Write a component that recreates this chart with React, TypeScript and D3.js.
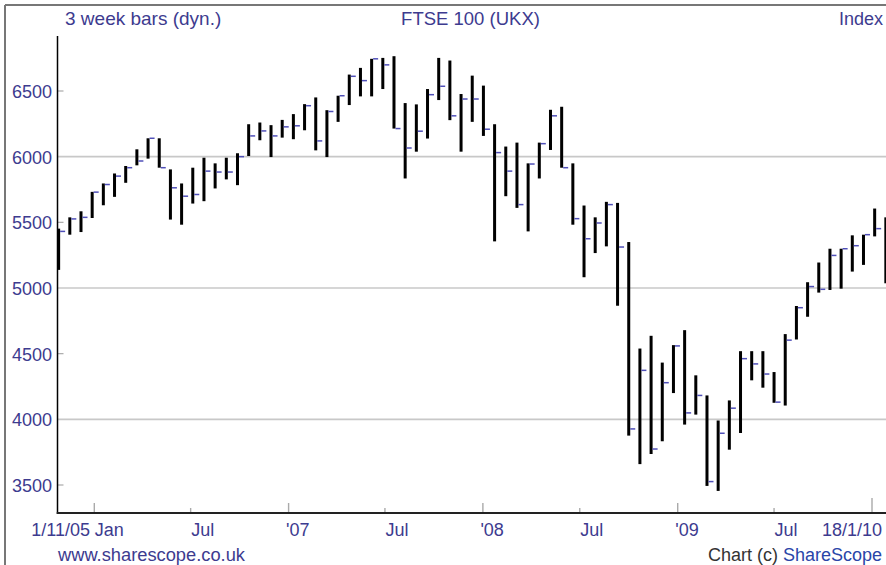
import React from "react";
import * as d3 from "d3";

// 3-week OHLC bars of the FTSE 100 (high, low, close)
const highs = [
  5452, 5538, 5584, 5732, 5796, 5872, 5929, 6056, 6140, 6140,
  5903, 5796, 5916, 5992, 5949, 5992, 6026, 6247, 6260, 6240,
  6280, 6324, 6400, 6451, 6354, 6464, 6625, 6676, 6745, 6752,
  6765, 6408, 6398, 6515, 6752, 6732, 6477, 6617, 6541, 6247,
  6077, 6107, 5949, 6107, 6357, 6380, 5949, 5628, 5538, 5656,
  5648, 5350, 4539, 4636, 4432, 4565, 4679, 4335, 4182, 3991,
  4144, 4519, 4519, 4519, 4360, 4649, 4863, 5044, 5194, 5299,
  5299, 5401, 5406, 5605, 5538,
];
const lows = [
  5138, 5406, 5426, 5533, 5630, 5694, 5801, 5934, 5985, 5916,
  5521, 5482, 5643, 5661, 5758, 5827, 5783, 6005, 6125, 5997,
  6145, 6133, 6201, 6048, 5997, 6265, 6393, 6459, 6459, 6515,
  6214, 5834, 6038, 6138, 6431, 6278, 6038, 6265, 6158, 5355,
  5699, 5610, 5431, 5834, 6051, 5916, 5482, 5082, 5266, 5317,
  4865, 3876, 3659, 3736, 3833, 4200, 3960, 4036, 3493, 3455,
  3769, 3896, 4297, 4241, 4126, 4105, 4608, 4781, 4965, 4985,
  4995, 5125, 5176, 5393, 5036,
];
const closes = [
  5431, 5526, 5538, 5730, 5788, 5852, 5916, 5967, 6140, 5916,
  5763, 5699, 5712, 5890, 5883, 5883, 6000, 6158, 6196, 6158,
  6227, 6235, 6388, 6120, 6344, 6464, 6612, 6579, 6745, 6699,
  6214, 6066, 6194, 6472, 6536, 6311, 6439, 6439, 6209, 6031,
  5890, 5635, 5944, 6099, 6311, 5916, 5528, 5375, 5495, 5635,
  5312, 3927, 4373, 3774, 4279, 4559, 4049, 4182, 3526, 3894,
  4085, 4462, 4422, 4345, 4131, 4603, 4850, 5011, 4990, 5248,
  5299, 5322, 5406, 5452, 5494,
];

const firstBar = new Date(2005, 9, 26);
const barDays = 21;

const yTicksMajor = [4000, 5000, 6000];
const yTicksLabel = [3500, 4000, 4500, 5000, 5500, 6000, 6500];
const yTicksMinor = [3500, 4500, 5500, 6500];

const xTickDates = [
  new Date(2006, 0, 1), new Date(2006, 6, 1), new Date(2007, 0, 1), new Date(2007, 6, 1),
  new Date(2008, 0, 1), new Date(2008, 6, 1), new Date(2009, 0, 1), new Date(2009, 6, 1),
  new Date(2010, 0, 1),
];
const xTickLabels = ["Jan", "Jul", "'07", "Jul", "'08", "Jul", "'09", "Jul", ""];

const W = 886;
const H = 565;
const textColor = "#3d3b8f";
const font = "'Liberation Sans', Arial, sans-serif";

export default function App() {
  const x = d3.scaleTime()
    .domain([new Date(2006, 0, 1), new Date(2010, 0, 1)])
    .range([94.3, 872]);
  const y = d3.scaleLinear().domain([3500, 6500]).range([485, 91]);

  const axisX = 57.5;
  const axisBottom = 513;
  const axisTop = 36;

  const bars = highs.map((h, i) => ({
    date: d3.timeDay.offset(firstBar, barDays * i),
    high: h,
    low: lows[i],
    close: closes[i],
  }));

  return (
    <div style={{ position: "fixed", left: 0, top: 0 }}>
      <svg width={W} height={H} style={{ display: "block", background: "#fff" }}>
        <rect x={0} y={0} width={W} height={H} fill="#fff" />
        {/* frame */}
        <line x1={5} y1={5} x2={W} y2={5} stroke="#777" strokeWidth={2} />
        <line x1={5} y1={5} x2={5} y2={H} stroke="#777" strokeWidth={2} />

        {/* gridlines */}
        {yTicksMajor.map((v) => (
          <line key={"g" + v} x1={axisX} x2={W} y1={y(v)} y2={y(v)} stroke="#c8c8c8" strokeWidth={1.6} />
        ))}
        {yTicksMinor.map((v) => (
          <line key={"m" + v} x1={axisX} x2={axisX + 6} y1={y(v)} y2={y(v)} stroke="#aaa" strokeWidth={1.2} />
        ))}
        {yTicksLabel.map((v) => (
          <text key={"l" + v} x={52} y={y(v) + 7} textAnchor="end" fontFamily={font} fontSize={18} fill={textColor}>
            {v}
          </text>
        ))}

        {/* x ticks */}
        {xTickDates.map((d, i) => {
          const isYear = d.getMonth() === 0;
          const last = i === xTickDates.length - 1;
          const len = last ? 15 : isYear ? 10 : 5;
          return (
            <line key={"xt" + i} x1={x(d)} x2={x(d)} y1={axisBottom - len} y2={axisBottom} stroke="#aaa" strokeWidth={1.4} />
          );
        })}
        {xTickDates.map((d, i) => {
          const lab = xTickLabels[i];
          if (!lab) return null;
          const dx = lab.startsWith("'") ? -2.5 : 0.5;
          return (
            <text key={"xl" + i} x={x(d) + dx} y={536} fontFamily={font} fontSize={18} fill={textColor}>
              {lab}
            </text>
          );
        })}
        <text x={90} y={536} textAnchor="end" fontFamily={font} fontSize={18} fill={textColor}>1/11/05</text>
        <text x={882} y={536} textAnchor="end" fontFamily={font} fontSize={18} fill={textColor}>18/1/10</text>

        {/* bars */}
        {bars.map((b, i) => {
          const cx = x(b.date);
          return (
            <g key={"b" + i}>
              <rect x={cx - 1.5} y={y(b.high)} width={3} height={y(b.low) - y(b.high)} fill="#000" />
              <line x1={cx + 1.5} x2={cx + 6.5} y1={y(b.close)} y2={y(b.close)} stroke="#4f4fb8" strokeWidth={1.5} />
            </g>
          );
        })}

        {/* axes */}
        <line x1={axisX} x2={axisX} y1={axisTop} y2={axisBottom + 1} stroke="#000" strokeWidth={1.5} />
        <line x1={axisX - 0.75} x2={W} y1={axisBottom} y2={axisBottom} stroke="#222" strokeWidth={2} />

        {/* titles */}
        <text x={65} y={25} fontFamily={font} fontSize={19} fill={textColor}>3 week bars (dyn.)</text>
        <text x={470.5} y={25} textAnchor="middle" fontFamily={font} fontSize={18.5} fill={textColor}>FTSE 100 (UKX)</text>
        <text x={883} y={25} textAnchor="end" fontFamily={font} fontSize={18} fill={textColor}>Index</text>

        {/* footer */}
        <text x={58} y={561} fontFamily={font} fontSize={18.3} fill={textColor}>www.sharescope.co.uk</text>
        <text x={882} y={561} textAnchor="end" fontFamily={font} fontSize={18} fill="#333">
          Chart (c) <tspan fill="#2a45a8">ShareScope</tspan>
        </text>
      </svg>
    </div>
  );
}
